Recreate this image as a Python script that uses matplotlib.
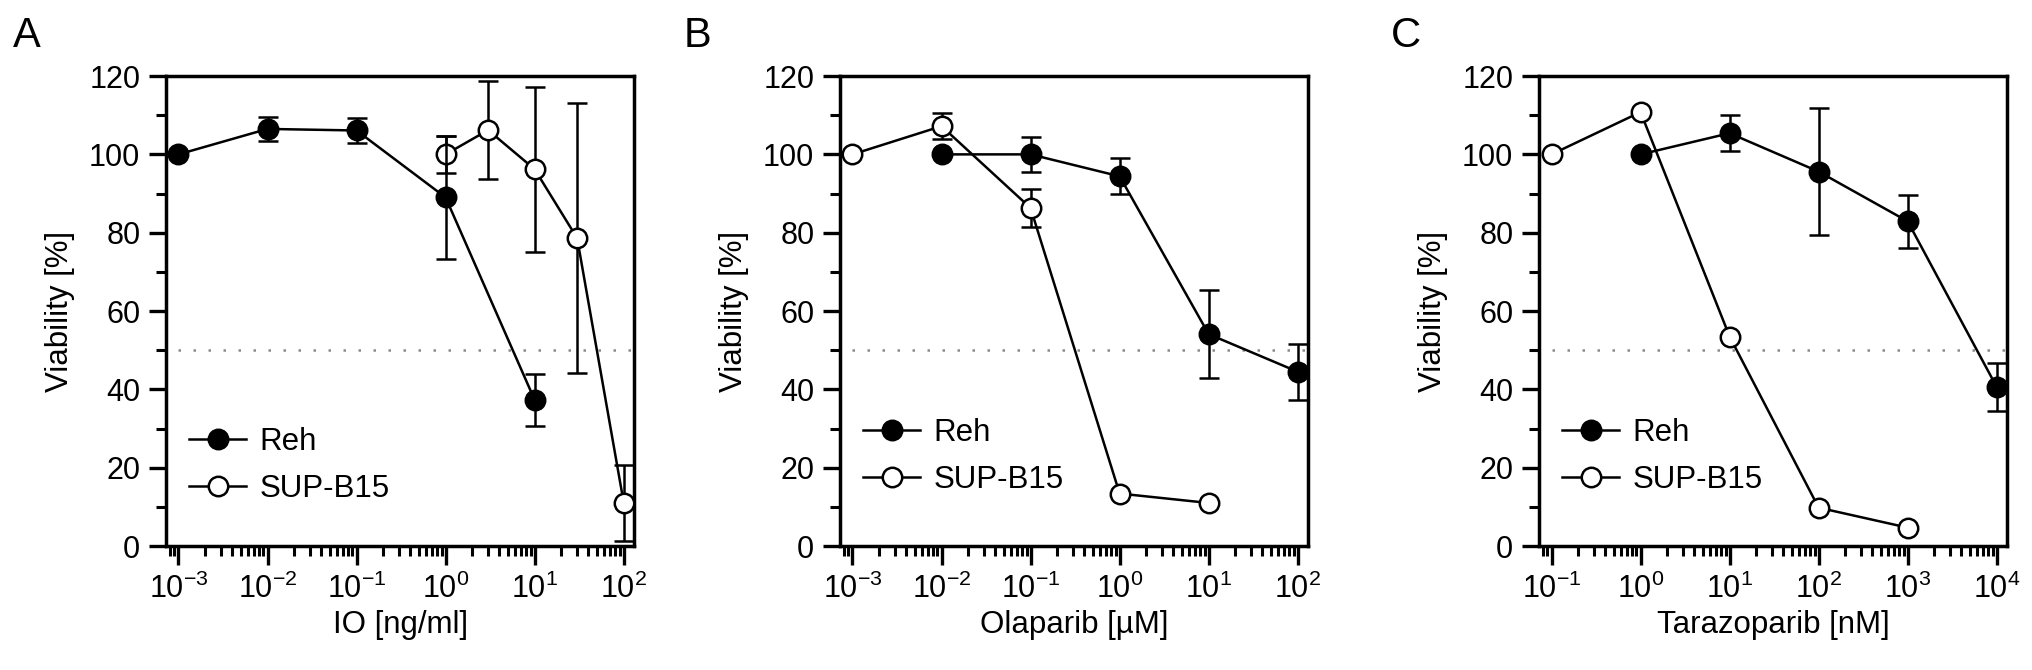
import numpy as np
import matplotlib
matplotlib.use("Agg")
import matplotlib.pyplot as plt
from matplotlib.lines import Line2D
from matplotlib.ticker import LogLocator, MultipleLocator, NullFormatter

plt.rcParams["font.family"] = ["Liberation Sans", "DejaVu Sans"]
plt.rcParams["mathtext.fontset"] = "custom"
plt.rcParams["mathtext.rm"] = "Liberation Sans"
plt.rcParams["mathtext.it"] = "Liberation Sans:italic"
plt.rcParams["mathtext.bf"] = "Liberation Sans:bold"

nan = np.nan

# panel A: IO
io_reh_x = [1e-3, 1e-2, 1e-1, 1, 10]
io_reh_y = [100, 106.5, 106.1, 89.0, 37.3]
io_reh_err = [nan, 3.0, 3.3, 15.6, 6.7]
io_sup_x = [1, 3, 10, 30, 100]
io_sup_y = [100, 106.2, 96.2, 78.6, 11.1]
io_sup_err = [4.7, 12.6, 21.0, 34.4, 9.7]

# panel B: Olaparib
ola_reh_x = [1e-2, 1e-1, 1, 10, 100]
ola_reh_y = [100, 100, 94.4, 54.1, 44.5]
ola_reh_err = [nan, 4.5, 4.6, 11.2, 7.1]
ola_sup_x = [1e-3, 1e-2, 1e-1, 1, 10]
ola_sup_y = [100, 107.2, 86.3, 13.4, 11.0]
ola_sup_err = [nan, 3.3, 4.8, nan, nan]

# panel C: Tarazoparib
tal_reh_x = [1, 10, 100, 1000, 10000]
tal_reh_y = [100, 105.4, 95.6, 82.9, 40.6]
tal_reh_err = [nan, 4.6, 16.3, 6.8, 6.2]
tal_sup_x = [0.1, 1, 10, 100, 1000]
tal_sup_y = [100, 110.8, 53.5, 9.8, 4.7]
tal_sup_err = [nan, nan, nan, nan, nan]

panels = [
    ("A", "IO [ng/ml]", (-3, 2),
     (io_reh_x, io_reh_y, io_reh_err), (io_sup_x, io_sup_y, io_sup_err), 0.172),
    ("B", "Olaparib [\u00b5M]", (-3, 2),
     (ola_reh_x, ola_reh_y, ola_reh_err), (ola_sup_x, ola_sup_y, ola_sup_err), 0.19),
    ("C", "Tarazoparib [nM]", (-1, 4),
     (tal_reh_x, tal_reh_y, tal_reh_err), (tal_sup_x, tal_sup_y, tal_sup_err), 0.19),
]

fig = plt.figure(figsize=(20.32, 6.70), dpi=100)
lefts = [0.0817, 0.4134, 0.7574]
letter_x = [0.0064, 0.3366, 0.6845]
lw = 1.8

for i, (letter, xlabel, (e0, e1), reh, sup, leg_y) in enumerate(panels):
    ax = fig.add_axes([lefts[i], 0.185, 0.2305, 0.7015])
    ax.set_xscale("log")
    ax.set_xlim(10 ** (e0 - 0.14), 10 ** (e1 + 0.12))
    ax.set_ylim(0, 120)

    ax.hlines(50, 10 ** e0, 10 ** (e1 + 0.1), colors="#8a8a8a",
              linestyles=(0, (1, 5)), linewidth=1.8, zorder=1)

    kw = dict(color="black", linewidth=lw, elinewidth=lw, capsize=7,
              capthick=lw, markersize=14, markeredgewidth=lw,
              markeredgecolor="black", clip_on=False)
    ax.errorbar(sup[0], sup[1], yerr=sup[2], fmt="-o",
                markerfacecolor="white", zorder=3, **kw)
    ax.errorbar(reh[0], reh[1], yerr=reh[2], fmt="-o",
                markerfacecolor="black", zorder=4, **kw)

    ax.xaxis.set_major_locator(LogLocator(base=10, numticks=20))
    ax.xaxis.set_minor_locator(LogLocator(base=10, subs=np.arange(2, 10), numticks=20))
    ax.xaxis.set_minor_formatter(NullFormatter())
    ax.yaxis.set_major_locator(MultipleLocator(20))
    ax.yaxis.set_minor_locator(MultipleLocator(10))

    for s in ax.spines.values():
        s.set_linewidth(2.5)
    ax.tick_params(which="major", direction="out", length=12.5, width=2.4,
                   labelsize=22, pad=6)
    ax.tick_params(axis="x", which="major", length=14)
    ax.tick_params(which="minor", direction="out", length=7.5, width=2.2)

    ax.set_xlabel(xlabel, fontsize=22.5)
    ax.set_ylabel("Viability [%]", fontsize=22.5)
    ax.xaxis.set_label_coords(0.5, -0.135)
    ax.yaxis.set_label_coords(-0.195, 0.5)

    h_reh = Line2D([], [], color="black", linewidth=lw, marker="o",
                   markersize=14, markerfacecolor="black", markeredgewidth=lw)
    h_sup = Line2D([], [], color="black", linewidth=lw, marker="o",
                   markersize=14, markerfacecolor="white", markeredgewidth=lw)
    ax.legend([h_reh, h_sup], ["Reh", "SUP-B15"], loc="center left",
              bbox_to_anchor=(0.05, leg_y), frameon=False, fontsize=22.5,
              handlelength=1.8, handletextpad=0.45, labelspacing=0.55,
              borderpad=0, borderaxespad=0)

    fig.text(letter_x[i], 0.946, letter, fontsize=30, ha="left", va="center")

fig.savefig("out.png", dpi=100)
